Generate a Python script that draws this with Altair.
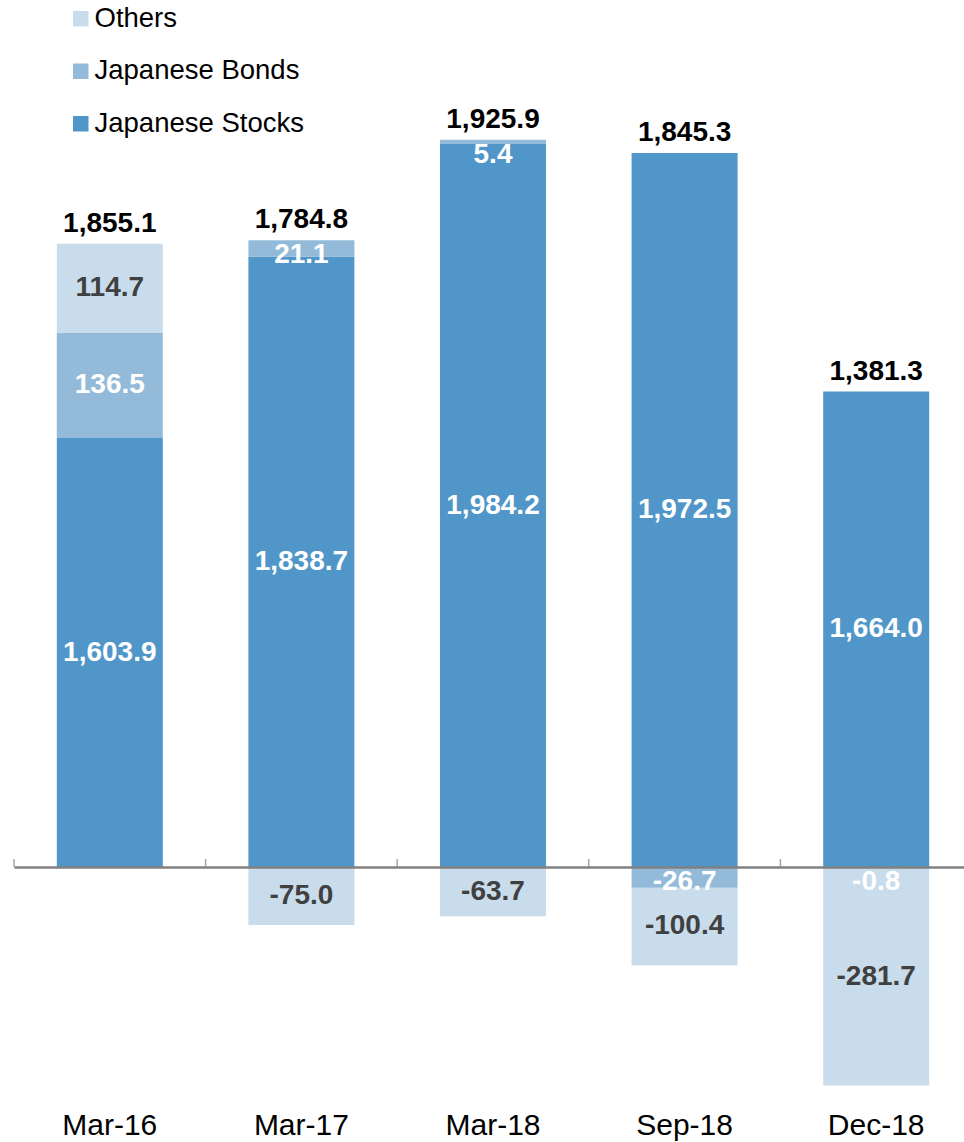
import altair as alt
import pandas as pd

# ---- data ----
periods = ["Mar-16", "Mar-17", "Mar-18", "Sep-18", "Dec-18"]
japanese_stocks = [1603.9, 1838.7, 1984.2, 1972.5, 1664.0]
japanese_bonds = [136.5, 21.1, 5.4, -26.7, -0.8]
others = [114.7, -75.0, -63.7, -100.4, -281.7]
totals = [1855.1, 1784.8, 1925.9, 1845.3, 1381.3]

stack_order = ["Japanese Stocks", "Japanese Bonds", "Others"]
legend_order = ["Others", "Japanese Bonds", "Japanese Stocks"]
legend_colors = ["#c9dcec", "#93bbd9", "#5196c8"]

# the reference uses a broken value axis: the span 0..BREAK_TOP is hidden
BREAK_TOP = 1049.0
FONT = "Liberation Sans"

series_values = {
    "Japanese Stocks": japanese_stocks,
    "Japanese Bonds": japanese_bonds,
    "Others": others,
}

rows = []
for i, p in enumerate(periods):
    pos, neg = 0.0, 0.0
    for s in stack_order:
        v = series_values[s][i]
        if v >= 0:
            lo, hi = pos, pos + v
            pos = hi
        else:
            lo, hi = neg + v, neg
            neg = lo
        vis_lo = BREAK_TOP if (lo >= 0 and lo < BREAK_TOP < hi) else lo
        rows.append(
            dict(
                period=p,
                series=s,
                value=v,
                lo=lo,
                hi=hi,
                mid=(vis_lo + hi) / 2,
                small=abs(v) < 30,
                label=f"{v:,.1f}",
            )
        )
df = pd.DataFrame(rows)

tot_rows = []
for i, p in enumerate(periods):
    top = sum(series_values[s][i] for s in stack_order if series_values[s][i] > 0)
    tot_rows.append(dict(period=p, top=top, label=f"{totals[i]:,.1f}"))
tdf = pd.DataFrame(tot_rows)

xscale = alt.Scale(domain=periods, range=[0, 958], paddingInner=0, paddingOuter=0)
yscale = alt.Scale(
    domain=[-301.4, 0, BREAK_TOP, 2170.5],
    range=[1100, 867, 867, 0],
    nice=False,
    zero=False,
)
xaxis = alt.Axis(
    title=None, labelAngle=0, labelFontSize=30, labelFont=FONT, labelColor="black",
    ticks=False, domain=False, grid=False, labelPadding=10,
)
yaxis = alt.Axis(
    title=None, values=[0], grid=True, gridColor="#808080", gridWidth=2.5,
    labels=False, ticks=False, domain=False, zindex=1,
)

X = alt.X("period:N", sort=periods, scale=xscale, axis=xaxis)

bars = alt.Chart(df).mark_bar(size=106).encode(
    x=X,
    y=alt.Y("lo:Q", scale=yscale, axis=yaxis),
    y2="hi:Q",
    color=alt.Color(
        "series:N",
        scale=alt.Scale(domain=legend_order, range=legend_colors),
        legend=alt.Legend(
            orient="none", legendX=53, legendY=5, title=None,
            symbolType="square", symbolSize=240, symbolStrokeWidth=0,
            labelFontSize=27.5, labelFont=FONT, labelColor="black",
            labelOffset=0, labelLimit=500, rowPadding=23.5, padding=0,
        ),
    ),
    order=alt.Order("lo:Q"),
)

ticks = alt.Chart(pd.DataFrame({"period": periods})).mark_tick(
    orient="vertical", size=8, thickness=1.5, color="#808080", yOffset=-4
).encode(
    x=alt.X("period:N", sort=periods, scale=xscale, axis=xaxis, bandPosition=0),
    y=alt.Y(datum=0, scale=yscale, axis=yaxis),
)

label_color = alt.condition(
    alt.datum.series == "Others", alt.value("#404040"), alt.value("white")
)

seg_labels = alt.Chart(df).transform_filter("!datum.small").mark_text(
    font=FONT, fontSize=28, fontWeight="bold", baseline="middle"
).encode(
    x=X,
    y=alt.Y("mid:Q", scale=yscale, axis=yaxis),
    text="label:N",
    color=label_color,
)

small_labels = alt.Chart(df).transform_filter("datum.small").mark_text(
    font=FONT, fontSize=28, fontWeight="bold", baseline="top", dy=1
).encode(
    x=X,
    y=alt.Y("hi:Q", scale=yscale, axis=yaxis),
    text="label:N",
    color=label_color,
)

total_labels = alt.Chart(tdf).mark_text(
    font=FONT, fontSize=28, fontWeight="bold", baseline="alphabetic", dy=-12,
    color="black",
).encode(
    x=X,
    y=alt.Y("top:Q", scale=yscale, axis=yaxis),
    text="label:N",
)

chart = (
    alt.layer(bars, ticks, seg_labels, small_labels, total_labels)
    .properties(
        width=950,
        height=1100,
        autosize="none",
        padding={"left": 14, "top": 0, "right": 0, "bottom": 42},
        background="white",
    )
    .configure_view(stroke=None)
)

chart.save("out.html", embed_options={"renderer": "svg", "actions": False})
